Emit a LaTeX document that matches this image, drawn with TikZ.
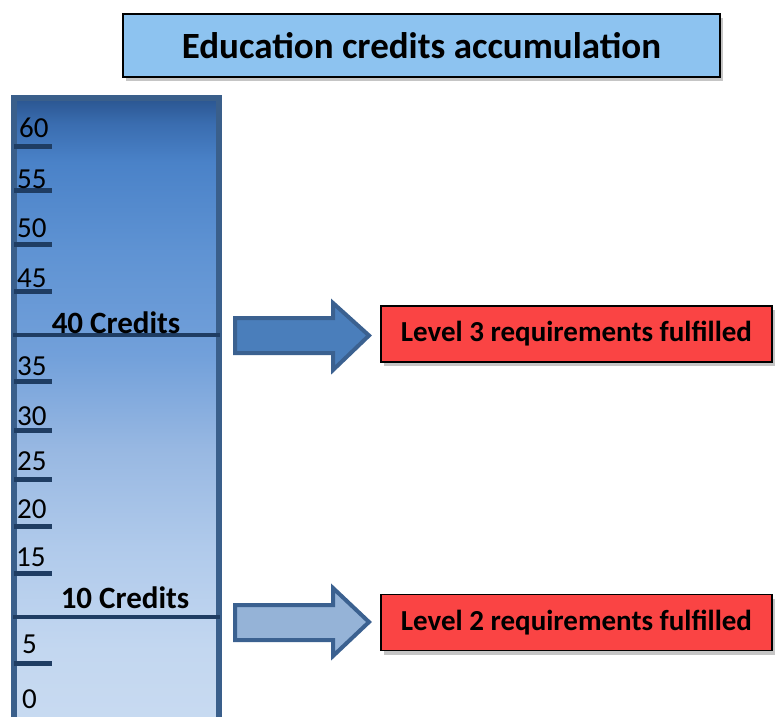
\documentclass[tikz,border=0pt]{standalone}
\usepackage{fontspec}
\setmainfont{Carlito}
\usepackage{tikz}
\usetikzlibrary{shadows}
\definecolor{titlefill}{HTML}{8DC3F0}
\definecolor{redfill}{HTML}{FA4444}
\definecolor{colframe}{HTML}{3A5F8B}
\definecolor{tickblue}{HTML}{1F3D63}
\definecolor{arrowdark}{HTML}{4A7EBB}
\definecolor{arrowlight}{HTML}{95B3D7}
\definecolor{arrowline}{HTML}{3B6190}
\pgfdeclareverticalshading{colshade}{100bp}{
  color(0bp)=(rgb,255:red,201;green,219;blue,241);
  color(25bp)=(rgb,255:red,201;green,219;blue,241);
  color(32bp)=(rgb,255:red,195;green,215;blue,240);
  color(40bp)=(rgb,255:red,176;green,202;blue,235);
  color(47.6bp)=(rgb,255:red,152;green,184;blue,226);
  color(55bp)=(rgb,255:red,114;green,160;blue,218);
  color(63bp)=(rgb,255:red,95;green,147;blue,211);
  color(70bp)=(rgb,255:red,74;green,130;blue,200);
  color(73bp)=(rgb,255:red,58;green,109;blue,176);
  color(75bp)=(rgb,255:red,42;green,85;blue,144);
  color(100bp)=(rgb,255:red,42;green,85;blue,144)}
\tikzset{
  titlebox/.style={draw=black, line width=1.8pt, fill=titlefill, minimum width=597pt, minimum height=63pt,
    drop shadow={shadow xshift=3pt, shadow yshift=-4pt, opacity=.45}, font=\bfseries\fontsize{37}{44}\selectfont},
  levelbox/.style={draw=black, line width=1.8pt, fill=redfill, minimum width=391pt, minimum height=56pt,
    drop shadow={shadow xshift=3pt, shadow yshift=-4pt, opacity=.45}, font=\bfseries\fontsize{29}{35}\selectfont},
  tickline/.style={draw=tickblue, line width=5pt},
  creditline/.style={draw=tickblue, line width=4.5pt},
  ticknum/.style={inner sep=0pt, text=black, font=\fontsize{29}{35}\selectfont},
  creditlab/.style={inner sep=0pt, text=black, font=\bfseries\fontsize{31}{37}\selectfont},
  blockarrow/.style={draw=arrowline, line width=4pt, line join=miter},
}
\begin{document}
\begin{tikzpicture}[x=1pt,y=-1pt]
  \useasboundingbox (0,0) rectangle (775,716);
  \clip (0,0) rectangle (775,716);
  \fill[white] (0,0) rectangle (775,716);

  \node[titlebox] (title) at (421.5,45.5) {Education credits accumulation};

  \shade[shading=colshade] (14,98) rectangle (219,740);
  \draw[colframe, line width=6pt] (14,98) rectangle (219,740);

  \foreach \v/\t/\b/\x in {60/146/137/19, 55/190/188/17, 50/244/237/17, 45/291/287/17,
      35/381/375/17, 30/430/425/17, 25/479/470/17, 20/526/518/17, 15/573/566/16, 5/663/653/22}{
    \draw[tickline] (14,\t) -- (52,\t);
    \node[ticknum, anchor=base west] (n\v) at (\x,\b) {\v};
  }
  \node[ticknum, anchor=base west] (n0) at (22,708) {0};

  \draw[creditline] (13,335) -- (220,335);
  \node[creditlab, anchor=base] (c40) at (116,333) {40 Credits};
  \draw[creditline] (13,617) -- (220,617);
  \node[creditlab, anchor=base] (c10) at (125,608) {10 Credits};

  \node[levelbox] (lvl3) at (576.5,334) {Level 3 requirements fulfilled};
  \node[levelbox] (lvl2) at (576.5,622.5) {Level 2 requirements fulfilled};

  \coordinate (arr3) at (235,318);
  \coordinate (arr2) at (235,605);
  \draw[blockarrow, fill=arrowdark] (arr3) -- ++(98,0) -- ++(0,-15) -- ++(36,32.5)
    -- ++(-36,34.5) -- ++(0,-17) -- ++(-98,0) -- cycle;
  \draw[blockarrow, fill=arrowlight] (arr2) -- ++(98,0) -- ++(0,-17) -- ++(36,34)
    -- ++(-36,34) -- ++(0,-16) -- ++(-98,0) -- cycle;
\end{tikzpicture}
\end{document}
